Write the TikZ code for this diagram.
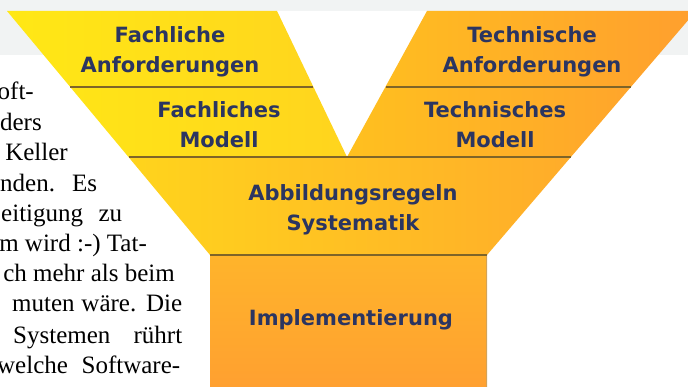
\documentclass[tikz,border=0pt]{standalone}
\usepackage{fontspec}
\setmainfont{Liberation Serif}
\newfontfamily\labelfont{DejaVu Sans}
\definecolor{graybg}{HTML}{F1F3F3}
\definecolor{yelA}{HTML}{FFE815}
\definecolor{yelB}{HTML}{FFD41E}
\definecolor{orA}{HTML}{FFC01F}
\definecolor{orB}{HTML}{FF9F2E}
\definecolor{midA}{HTML}{FFD41C}
\definecolor{midB}{HTML}{FFAC2A}
\definecolor{stemA}{HTML}{FFB42B}
\definecolor{stemB}{HTML}{FFA030}
\definecolor{sepcol}{HTML}{7E6428}
\definecolor{edgecol}{HTML}{D2A35A}
\definecolor{labcol}{HTML}{2B3561}
\tikzset{
  lbl/.style={inner sep=0pt, align=center, text=labcol,
    font=\labelfont\bfseries\fontsize{21}{30}\selectfont},
  sepline/.style={draw=sepcol, line width=2.4pt},
  para/.style={inner sep=0pt, text=black, font=\fontsize{25}{30}\selectfont}
}
\begin{document}
\begin{tikzpicture}[x=1pt,y=-1pt]
\useasboundingbox (0,0) rectangle (688,387);
\clip (0,0) rectangle (688,387);
\fill[white] (0,0) rectangle (688,387);
\fill[graybg] (0,0) rectangle (688,55);
% V gap (white)
\fill[white] (277,11) -- (427,11) -- (347,157) -- cycle;
% left arm
\shade[left color=yelA, right color=yelB]
  (7,11) -- (277,11) -- (347,157) -- (128.5,157) -- cycle;
% right arm
\shade[left color=orA, right color=orB]
  (427,11) -- (696,11) -- (570.9,157) -- (347,157) -- cycle;
% middle band
\shade[left color=midA, right color=midB]
  (128.5,157) -- (570.9,157) -- (487,255) -- (210,255) -- cycle;
% stem
\shade[top color=stemA, bottom color=stemB]
  (210,255) rectangle (487,387);
\coordinate (e1) at (486.5,256);
\coordinate (e2) at (486.5,387);
\draw[edgecol, line width=1pt] (e1) -- (e2);
% separators
\coordinate (s1a) at (70.2,87);
\coordinate (s1b) at (313.2,87);
\coordinate (s2a) at (385.6,87);
\coordinate (s2b) at (630.9,87);
\coordinate (s3a) at (128.5,157);
\coordinate (s3b) at (570.9,157);
\coordinate (s4a) at (210,255);
\coordinate (s4b) at (487,255);
\draw[sepline] (s1a) -- (s1b);
\draw[sepline] (s2a) -- (s2b);
\draw[sepline] (s3a) -- (s3b);
\draw[sepline] (s4a) -- (s4b);
% labels
\node[lbl] (fa) at (170,51.5) {Fachliche\\Anforderungen};
\node[lbl] (fm) at (219,124.5) {Fachliches\\Modell};
\node[lbl] (ta) at (532,51.5) {Technische\\Anforderungen};
\node[lbl] (tm) at (495,124.5) {Technisches\\Modell};
\node[lbl] (ab) at (353,209.5) {Abbildungsregeln\\Systematik};
\node[lbl, anchor=base] (im) at (351,325) {Implementierung};
% paragraph fragments
\node[para, anchor=base east] (p1) at (34,100) {oft-};
\node[para, anchor=base east] (p2) at (42,131) {ders};
\node[para, anchor=base east] (p3) at (68,161) {Keller};
\node[para, anchor=base west] (p4) at (0,192) {\makebox[97pt][s]{nden. Es}};
\node[para, anchor=base west] (p5) at (1,222) {\makebox[121pt][s]{eitigung zu}};
\node[para, anchor=base east] (p6) at (147,252) {m wird :-) Tat-};
\node[para, anchor=base east] (p7) at (175,282) {ch mehr als beim};
\node[para, anchor=base west] (p8) at (12,312) {\makebox[170pt][s]{muten wäre. Die}};
\node[para, anchor=base west] (p9) at (13,343) {\makebox[169pt][s]{Systemen rührt}};
\node[para, anchor=base west] (p10) at (-3,373) {\makebox[183pt][s]{welche Software-}};
\end{tikzpicture}
\end{document}
